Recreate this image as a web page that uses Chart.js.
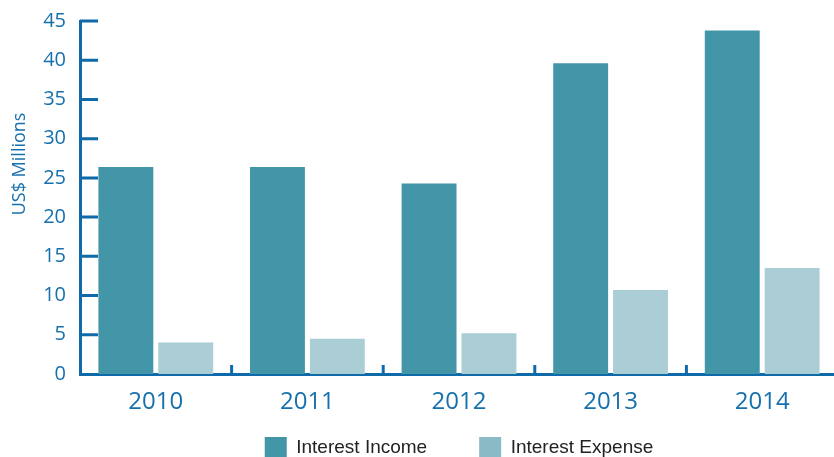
<!DOCTYPE html>
<html>
<head>
<meta charset="utf-8">
<script src="https://cdn.jsdelivr.net/npm/chart.js@4"></script>
<style>
  html, body { margin: 0; padding: 0; overflow: hidden; background: #fff; }
  #wrap { position: absolute; left: 0; top: 0; width: 840px; height: 469px; }
</style>
</head>
<body>
<div id="wrap"><canvas id="canvas"></canvas></div>
<script>
const years = ["2010", "2011", "2012", "2013", "2014"];
const interestIncome = [26.4, 26.4, 24.3, 39.6, 43.8];
const interestExpense = [4.0, 4.5, 5.2, 10.7, 13.5];
const seriesNames = ["Interest Income", "Interest Expense"];
const legendColors = ["#4395a8", "#8bbac7"];

const axisBlue = "#0e6aa9";
const textBlue = "#1670ad";

// inner tick marks, rotated y title, and let x labels spill below the squeezed x box
const axisDecor = {
  id: "axisDecor",
  afterLayout(chart) {
    const x = chart.scales.x;
    x.bottom = x.top + 45;
  },
  beforeDatasetsDraw(chart) {
    const { ctx, chartArea, scales: { x, y } } = chart;
    ctx.save();
    ctx.strokeStyle = axisBlue;
    ctx.lineWidth = 3;
    ctx.beginPath();
    y.ticks.forEach(t => {
      if (t.value === 0) return;
      const py = y.getPixelForValue(t.value);
      ctx.moveTo(chartArea.left, py);
      ctx.lineTo(chartArea.left + 18, py);
    });
    for (let i = 0; i < years.length - 1; i++) {
      const px = (x.getPixelForValue(i) + x.getPixelForValue(i + 1)) / 2;
      ctx.moveTo(px, chartArea.bottom);
      ctx.lineTo(px, chartArea.bottom - 9);
    }
    ctx.stroke();
    ctx.restore();
  },
  afterDraw(chart) {
    const { ctx, chartArea } = chart;
    ctx.save();
    ctx.translate(20, chartArea.top + (chartArea.bottom - chartArea.top) * 0.405);
    ctx.rotate(-Math.PI / 2);
    ctx.font = "18px 'Open Sans'";
    ctx.fillStyle = textBlue;
    ctx.textAlign = "center";
    ctx.textBaseline = "middle";
    ctx.fillText("US$ Millions", 0, 0);
    ctx.restore();
  }
};

const ctx = document.getElementById("canvas").getContext("2d");

new Chart(ctx, {
  type: "bar",
  data: {
    labels: years,
    datasets: [
      {
        label: seriesNames[0],
        data: interestIncome,
        backgroundColor: "#4395a8",
        categoryPercentage: 0.79,
        barPercentage: 0.917
      },
      {
        label: seriesNames[1],
        data: interestExpense,
        backgroundColor: "#abcdd6",
        categoryPercentage: 0.79,
        barPercentage: 0.917
      }
    ]
  },
  options: {
    responsive: true,
    maintainAspectRatio: false,
    animation: false,
    layout: { padding: { top: 21, right: 2, left: 0, bottom: 0 } },
    plugins: {
      tooltip: { enabled: false },
      legend: {
        position: "bottom",
        fullSize: false,
        labels: {
          boxWidth: 22,
          boxHeight: 22,
          padding: 52,
          color: "#222",
          font: { family: "'Liberation Sans', Arial", size: 19 },
          generateLabels: chart => {
            const items = Chart.defaults.plugins.legend.labels.generateLabels(chart);
            return items.map((it, i) => ({ ...it, fillStyle: legendColors[i], strokeStyle: legendColors[i], lineWidth: 0 }));
          }
        }
      }
    },
    scales: {
      x: {
        grid: { display: false, drawTicks: false },
        border: { display: true, color: axisBlue, width: 3 },
        ticks: {
          color: textBlue,
          padding: 14,
          font: { family: "'Open Sans'", size: 24 }
        },
        afterFit: scale => { scale.height = 11; }
      },
      y: {
        min: 0,
        max: 45,
        grid: { display: false, drawTicks: false },
        border: { display: true, color: axisBlue, width: 3 },
        ticks: {
          stepSize: 5,
          color: textBlue,
          padding: 14,
          font: { family: "'Open Sans'", size: 20 }
        },
        afterFit: scale => {
          scale.width = 80;
          scale.paddingTop = 0;
          scale.paddingBottom = 0;
        }
      }
    }
  },
  plugins: [axisDecor]
});
</script>
</body>
</html>
